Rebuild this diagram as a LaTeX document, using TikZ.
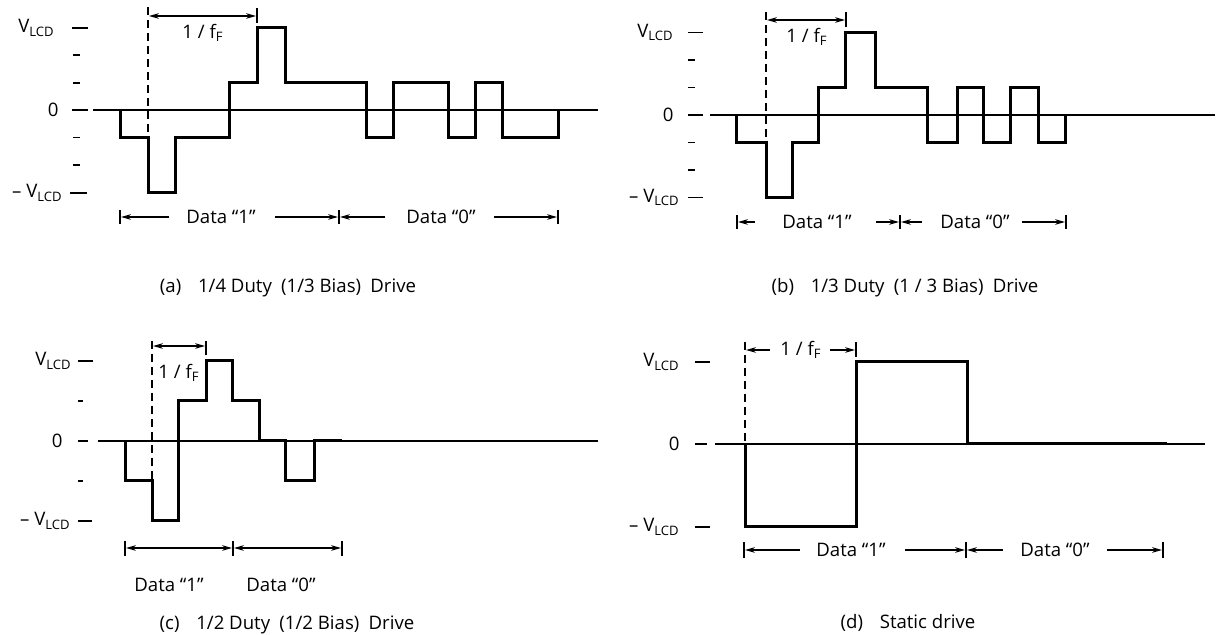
\documentclass[tikz,border=0pt]{standalone}
\usepackage{fontspec}
\setmainfont{Open Sans}
\usetikzlibrary{arrows.meta}
\newcommand\lblfont{\fontsize{9.3}{11}\selectfont}
\tikzset{
  wave/.style={line width=1.5pt, line join=miter},
  axisline/.style={line width=0.6pt},
  tickline/.style={line width=0.8pt},
  vdash/.style={line width=0.7pt, dash pattern=on 4pt off 2.5pt},
  dimarrow/.style={line width=0.6pt, -{Stealth[length=5pt,width=2.8pt]}},
  dimboth/.style={line width=0.6pt, {Stealth[length=5pt,width=2.8pt]}-{Stealth[length=5pt,width=2.8pt]}},
  endbar/.style={line width=0.8pt},
  lbl/.style={inner sep=0pt, font=\lblfont},
}
\begin{document}
\begin{tikzpicture}[x=0.5pt,y=-0.5pt]
\useasboundingbox (0,0) rectangle (1216,635);

%================ panel (a)
\node[lbl,anchor=east] (aV)  at (55,28)  {V\textsubscript{LCD}};
\node[lbl,anchor=east] (a0)  at (59,110) {0};
\node[lbl,anchor=east] (amV) at (63,193) {– V\textsubscript{LCD}};
\draw[tickline] (72,28)--(88,28);
\draw[tickline] (70,193)--(87,193);
\foreach \yy in {55,83,137.5,165} \draw[tickline] (73,\yy)--(80,\yy);
\draw[axisline] (72,110)--(88,110);
\draw[axisline] (93,110)--(598,110);
\draw[wave] (120,110)|-(148,137.5)|-(175,193)|-(229,137.5)|-(257,83)|-(285,28)|-(366,83)
  |-(393,137.5)|-(448,83)|-(475,137.5)|-(502,83)|-(558,137.5)--(558,110);
\draw[vdash] (148,7)--(148,193);
\coordinate (aF1) at (149,16); \coordinate (aF2) at (256,16);
\draw[dimboth] (aF1)--(aF2);
\draw[endbar] (257,8)--(257,23);
\node[lbl] (afF) at (203,33) {1 / f\textsubscript{F}};
% data row
\foreach \xx in {120,339,558} \draw[endbar] (\xx,210)--(\xx,224);
\node[lbl] (aD1) at (221,217) {Data “1”};
\node[lbl] (aD0) at (441,217) {Data “0”};
\coordinate (aT1) at (169,217); \coordinate (aH1) at (121,217);
\coordinate (aT2) at (275,217); \coordinate (aH2) at (338,217);
\coordinate (aT3) at (385,217); \coordinate (aH3) at (340,217);
\coordinate (aT4) at (494,217); \coordinate (aH4) at (557,217);
\draw[dimarrow] (aT1)--(aH1);
\draw[dimarrow] (aT2)--(aH2);
\draw[dimarrow] (aT3)--(aH3);
\draw[dimarrow] (aT4)--(aH4);
\node[lbl] (acap) at (288,288) {(a)\hspace{0.9em}1/4 Duty\hspace{0.5em}(1/3 Bias)\hspace{0.5em}Drive};

%================ panel (b)
\node[lbl,anchor=east] (bV)  at (674,32.5) {V\textsubscript{LCD}};
\node[lbl,anchor=east] (b0)  at (674,115)  {0};
\node[lbl,anchor=east] (bmV) at (680,197.5) {– V\textsubscript{LCD}};
\draw[tickline] (688,32.5)--(703,32.5);
\draw[tickline] (688,197.5)--(703,197.5);
\foreach \yy in {60,87.5,142.5,170} \draw[tickline] (688,\yy)--(695,\yy);
\draw[axisline] (688,115)--(703,115);
\draw[axisline] (710,115)--(1215,115);
\draw[wave] (736,115)|-(766,142.5)|-(792,197.5)|-(818,142.5)|-(845,87.5)|-(875,32.5)|-(927,87.5)
  |-(957,142.5)|-(983,87.5)|-(1010,142.5)|-(1038,87.5)|-(1065,142.5)--(1065,115);
\draw[vdash] (766,12)--(766,197.5);
\coordinate (bF1) at (767,20); \coordinate (bF2) at (845,20);
\draw[dimboth] (bF1)--(bF2);
\draw[endbar] (846,12)--(846,27);
\node[lbl] (bfF) at (807,37) {1 / f\textsubscript{F}};
% data row
\foreach \xx in {737,900,1066} \draw[endbar] (\xx,215)--(\xx,229);
\node[lbl] (bD1) at (817,222) {Data “1”};
\node[lbl] (bD0) at (975,222) {Data “0”};
\coordinate (bT1) at (755,222);  \coordinate (bH1) at (738,222);
\coordinate (bT2) at (876,222);  \coordinate (bH2) at (899,222);
\coordinate (bT3) at (922,222);  \coordinate (bH3) at (901,222);
\coordinate (bT4) at (1022,222); \coordinate (bH4) at (1065,222);
\draw[dimarrow] (bT1)--(bH1);
\draw[dimarrow] (bT2)--(bH2);
\draw[dimarrow] (bT3)--(bH3);
\draw[dimarrow] (bT4)--(bH4);
\node[lbl] (bcap) at (905,288) {(b)\hspace{0.9em}1/3 Duty\hspace{0.5em}(1 / 3 Bias)\hspace{0.5em}Drive};

%================ panel (c)
\node[lbl,anchor=east] (cV)  at (72,361) {V\textsubscript{LCD}};
\node[lbl,anchor=east] (c0)  at (63,441) {0};
\node[lbl,anchor=east] (cmV) at (71,521) {– V\textsubscript{LCD}};
\draw[tickline] (78,361)--(93,361);
\draw[tickline] (78,521)--(92,521);
\foreach \yy in {401,481} \draw[tickline] (78,\yy)--(83,\yy);
\draw[axisline] (78,441)--(88,441);
\draw[axisline] (98,441)--(598,441);
\draw[wave] (125,441)|-(152,481)|-(178,521)|-(206,401)|-(232,361)|-(259,401)|-(285,441)
  |-(314,481)|-(342,441);
\draw[vdash] (152,341)--(152,521);
\coordinate (cF1) at (153,346); \coordinate (cF2) at (205,346);
\draw[dimboth] (cF1)--(cF2);
\draw[endbar] (206,341)--(206,355);
\node[lbl] (cfF) at (179,373) {1 / f\textsubscript{F}};
% data row
\foreach \xx in {125,233,342} \draw[endbar] (\xx,541)--(\xx,556);
\coordinate (cA1) at (126,548); \coordinate (cA2) at (232,548);
\coordinate (cA3) at (234,548); \coordinate (cA4) at (341,548);
\draw[dimboth] (cA1)--(cA2);
\draw[dimboth] (cA3)--(cA4);
\node[lbl] (cD1) at (169,585) {Data “1”};
\node[lbl] (cD0) at (281,585) {Data “0”};
\node[lbl] (ccap) at (287,625) {(c)\hspace{0.9em}1/2 Duty\hspace{0.5em}(1/2 Bias)\hspace{0.5em}Drive};

%================ panel (d)
\node[lbl,anchor=east] (dV)  at (680,362) {V\textsubscript{LCD}};
\node[lbl,anchor=east] (d0)  at (680,444) {0};
\node[lbl,anchor=east] (dmV) at (680,527) {– V\textsubscript{LCD}};
\draw[tickline] (695,362)--(710,362);
\draw[tickline] (695,527)--(710,527);
\draw[axisline] (695,444)--(707,444);
\draw[axisline] (715,444)--(1205,444);
\draw[wave] (745,444)|-(856,527)|-(967,362)|-(1167,444);
\draw[vdash] (745,342)--(745,444);
\node[lbl] (dfF) at (801,350) {1 / f\textsubscript{F}};
\coordinate (dT1) at (770,350); \coordinate (dH1) at (746,350);
\coordinate (dT2) at (830,350); \coordinate (dH2) at (855,350);
\draw[dimarrow] (dT1)--(dH1);
\draw[dimarrow] (dT2)--(dH2);
\draw[endbar] (856,342)--(856,357);
% data row
\foreach \xx in {744,966,1163} \draw[endbar] (\xx,542)--(\xx,558);
\node[lbl] (dD1) at (851,550) {Data “1”};
\node[lbl] (dD0) at (1055,550) {Data “0”};
\coordinate (dT3) at (800,550);  \coordinate (dH3) at (745,550);
\coordinate (dT4) at (905,550);  \coordinate (dH4) at (965,550);
\coordinate (dT5) at (1003,550); \coordinate (dH5) at (967,550);
\coordinate (dT6) at (1107,550); \coordinate (dH6) at (1162,550);
\draw[dimarrow] (dT3)--(dH3);
\draw[dimarrow] (dT4)--(dH4);
\draw[dimarrow] (dT5)--(dH5);
\draw[dimarrow] (dT6)--(dH6);
\node[lbl] (dcap) at (908,623) {(d)\hspace{0.9em}Static drive};
\end{tikzpicture}
\end{document}
